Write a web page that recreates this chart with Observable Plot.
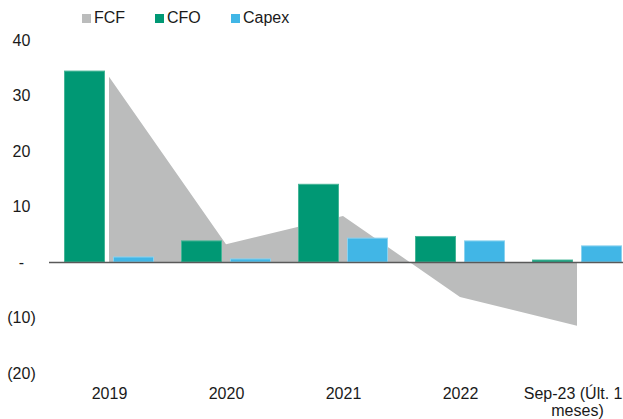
<!DOCTYPE html>
<html>
<head>
<meta charset="utf-8">
<script src="https://cdn.jsdelivr.net/npm/d3@7"></script>
<script src="https://cdn.jsdelivr.net/npm/@observablehq/plot@0.6"></script>
<style>
  html, body { margin: 0; padding: 0; background: #fff; }
  #wrap { position: relative; width: 623px; height: 419px; overflow: hidden; font-family: "Liberation Sans", Arial, sans-serif; }
  #legend { position: absolute; left: 0; top: 0; width: 623px; height: 30px; }
  .lg { position: absolute; top: 7px; font-size: 16px; line-height: 22px; color: #1a1a1a; white-space: nowrap; }
  .sw { display: inline-block; width: 9px; height: 9px; margin-right: 3px; vertical-align: 0px; }
  #chart { position: absolute; left: 0; top: 30px; }
</style>
</head>
<body>
<div id="wrap">
  <div id="legend"></div>
  <div id="chart"></div>
</div>
<script>
// ---- data ----
const categories = ["2019", "2020", "2021", "2022", "Sep-23"];
const tickLabels = ["2019", "2020", "2021", "2022", "Sep-23 (Últ. 12\nmeses)"];
const CFO = [34.4, 3.8, 14.0, 4.6, 0.35];
const Capex = [0.9, 0.55, 4.3, 3.8, 2.9];
const FCF = [33.4, 3.2, 8.3, -6.3, -11.5];
const yTicks = [-20, -10, 0, 10, 20, 30, 40];
const seriesNames = ["FCF", "CFO", "Capex"];
const seriesColors = ["#bbbcbc", "#009874", "#41b6e6"];

const rows = categories.map((c, i) => ({cat: c, cfo: CFO[i], capex: Capex[i], fcf: FCF[i]}));
const labelOf = new Map(categories.map((c, i) => [c, tickLabels[i]]));

// legend
const legendX = [82, 155, 231];
const legend = document.getElementById("legend");
seriesNames.forEach((n, i) => {
  const d = document.createElement("div");
  d.className = "lg";
  d.style.left = legendX[i] + "px";
  d.innerHTML = `<span class="sw" style="background:${seriesColors[i]}"></span>${n}`;
  legend.appendChild(d);
});

const fmt = v => v === 0 ? "-" : v < 0 ? `(${Math.abs(v)})` : `${v}`;

const chart = Plot.plot({
  width: 623,
  height: 389,
  marginTop: 10,
  marginBottom: 46,
  marginLeft: 49,
  marginRight: 0,
  style: {fontFamily: "Liberation Sans, Arial, sans-serif", fontSize: "16px", color: "#1a1a1a", background: "white"},
  x: {domain: categories, type: "band", range: [49, 636.5], paddingInner: 0.66, paddingOuter: 0.33, align: 0.5},
  y: {domain: [-20, 40]},
  marks: [
    Plot.areaY(rows, {x: "cat", y: "fcf", fill: seriesColors[0]}),
    Plot.barY(rows, {x: "cat", y: "cfo", fill: seriesColors[1], stroke: "#45b597", strokeWidth: 1, dx: -24.5}),
    Plot.barY(rows, {x: "cat", y: "capex", fill: seriesColors[2], stroke: "#8ad2ef", strokeWidth: 1, dx: 24.5}),
    Plot.ruleY([0], {stroke: "#595959", strokeWidth: 1.5}),
    Plot.axisY({ticks: yTicks, tickFormat: fmt, tickSize: 0, tickPadding: 28, textAnchor: "middle", label: null, fill: "#1a1a1a"}),
    Plot.axisX({tickFormat: d => labelOf.get(d), tickSize: 0, tickPadding: 13.5, lineHeight: 1.07, label: null, fill: "#1a1a1a"})
  ]
});
document.getElementById("chart").appendChild(chart);
</script>
</body>
</html>
